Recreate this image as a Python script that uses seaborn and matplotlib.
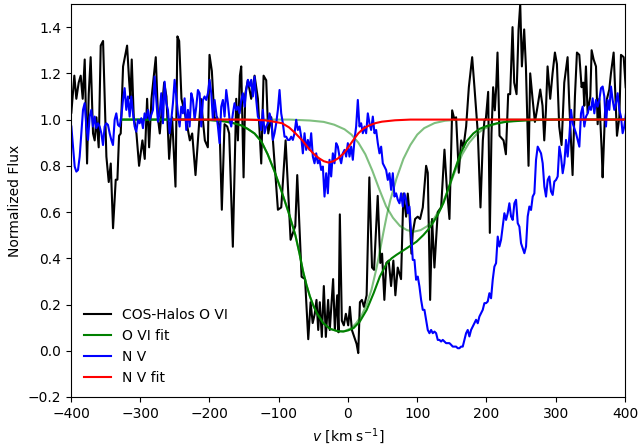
import numpy as np
import matplotlib
matplotlib.use("Agg")
import matplotlib.pyplot as plt
import seaborn as sns

# --- COS-Halos O VI spectrum (velocity in km/s, normalized flux) ---
ovi_vel = [
    -399.5, -395.2, -392.3, -388.9, -386.0, -383.1, -380.2, -376.8, -374.4, -371.6,
    -368.2, -365.8, -363.3, -360.0, -357.1, -353.7, -351.3, -348.9, -345.5, -342.6,
    -339.3, -335.4, -333.0, -330.6, -328.2, -324.8, -319.0, -316.1, -314.2, -312.3,
    -309.4, -305.5, -301.7, -296.9, -293.5, -290.1, -287.2, -283.8, -277.6, -274.2,
    -271.8, -265.5, -262.2, -258.3, -254.0, -249.1, -246.3, -243.8, -240.5, -235.7,
    -228.4, -225.0, -220.2, -212.5, -206.7,
    -202.4, -200.0, -196.6, -192.8, -188.9, -185.5, -182.2, -178.3, -174.4, -171.6,
    -166.3, -161.4, -159.0, -156.1, -154.2, -150.8, -148.4, -144.6, -139.8, -134.9,
    -130.1, -125.3, -121.9, -118.1, -115.2, -110.8, -101.2, -96.4, -90.1, -82.9,
    -76.1, -73.3,
    -67.0, -62.0, -57.4, -54.0, -51.0, -48.0, -45.5, -43.0, -40.7, -37.8,
    -34.9, -32.0, -28.7, -26.3, -21.5, -19.0, -15.6, -13.7, -11.8, -8.9,
    -6.0, -3.1, 0.3, 2.7, 5.6, 9.0, 12.4, 14.8, 17.2, 20.1,
    23.0, 26.9,
    30.8, 34.7, 37.6, 42.9, 46.7, 49.2, 52.5, 55.4, 58.8, 62.2,
    65.5, 68.4, 71.8, 76.6, 80.0, 83.9, 86.3, 88.7, 91.6, 93.5,
    96.9, 100.7, 104.1, 108.0, 112.8, 115.2, 118.6, 121.4, 124.8, 129.6,
    134.5, 139.3, 142.6, 146.5, 150.4, 153.7, 156.1, 160.0, 163.4, 166.7,
    170.6, 174.5, 179.3, 182.6, 187.5, 191.3, 194.7, 197.1,
    199.0, 202.4, 204.8, 207.2, 209.6, 212.0, 214.0, 215.9, 218.8, 221.7,
    224.6, 228.0, 231.3, 234.2, 237.6, 240.0, 243.4, 246.3, 248.7, 251.1,
    254.4, 256.9, 260.7, 263.1, 266.5, 269.9, 272.8, 277.6, 280.9, 283.4,
    285.8, 288.2, 292.0, 295.4, 298.8, 301.7, 305.0, 308.4, 312.3, 317.1,
    319.5, 324.3, 327.7, 330.6, 334.0, 337.3, 339.7, 341.2, 343.6, 346.0,
    349.9, 351.8, 354.7, 358.1, 360.5, 362.9, 366.3, 367.7, 371.1, 374.0,
    377.3, 379.7, 383.6, 386.0, 388.4, 391.8, 394.2, 398.1, 401.0,
]
ovi_flux = [
    1.03, 1.19, 1.09, 1.16, 1.19, 1.09, 1.26, 0.81, 1.11, 1.27,
    0.94, 0.91, 1.01, 0.88, 1.32, 1.34, 1.09, 0.84, 0.73, 0.81,
    0.53, 0.74, 0.74, 0.93, 0.94, 1.23, 1.32, 1.17, 1.09, 1.26,
    1.01, 0.94, 0.80, 0.91, 0.83, 1.09, 0.88, 1.09, 1.27, 1.00,
    0.94, 1.16, 1.10, 0.83, 1.01, 0.71, 1.36, 1.34, 1.09, 1.03,
    0.91, 0.94, 0.76, 1.09, 0.91,
    0.88, 1.28, 1.21, 1.00, 1.01, 0.97, 0.61, 0.98, 0.97, 0.94,
    0.45, 1.09, 0.91, 1.19, 1.23, 0.75, 1.11, 1.17, 1.09, 1.19,
    1.09, 0.81, 1.19, 1.17, 0.94, 1.01, 0.61, 0.62, 0.91, 0.48,
    0.54, 0.76,
    0.32, 0.31, 0.05, 0.21, 0.12, 0.16, 0.22, 0.09, 0.21, 0.06,
    0.28, 0.06, 0.22, 0.09, 0.31, 0.09, 0.24, 0.08, 0.59, 0.13,
    0.11, 0.16, 0.11, 0.19, 0.09, 0.06, 0.03, -0.01, 0.21, 0.22,
    0.19, 0.24,
    0.75, 0.36, 0.35, 0.67, 0.38, 0.42, 0.22, 0.38, 0.39, 0.28,
    0.39, 0.24, 0.36, 0.31, 0.68, 0.58, 0.68, 0.60, 0.42, 0.51,
    0.57, 0.58, 0.57, 0.62, 0.80, 0.77, 0.22, 0.57, 0.36, 0.60,
    0.62, 0.87, 0.71, 0.57, 1.04, 1.00, 1.01, 0.77, 0.91, 0.88,
    0.97, 1.14, 1.27, 1.14, 0.94, 0.62, 0.91, 1.00,
    1.00, 1.12, 0.51, 0.94, 1.14, 1.04, 1.14, 1.29, 0.93, 0.92,
    0.91, 0.85, 1.11, 1.11, 1.40, 1.16, 1.11, 1.39, 1.50, 1.23,
    1.39, 1.23, 0.80, 1.20, 1.09, 0.99, 1.04, 1.13, 1.06, 0.91,
    1.04, 1.23, 1.09, 1.20, 1.29, 1.24, 0.97, 0.89, 1.16, 1.27,
    1.07, 0.76, 1.10, 1.29, 1.28, 1.14, 1.16, 1.06, 1.23, 1.03,
    1.10, 1.30, 1.26, 1.23, 0.98, 1.09, 0.87, 0.75, 1.03, 1.09,
    1.13, 1.20, 1.29, 1.11, 0.93, 1.01, 1.28, 1.27, 1.14,
]

# --- N V spectrum on a uniform velocity grid ---
nv_flux = [
    # -400 .. -204 km/s
    0.970, 0.883, 0.797, 0.775, 0.782, 0.840, 0.941, 1.042, 1.071, 0.970,
    0.912, 1.013, 1.042, 0.970, 1.013, 0.963, 0.984, 0.970, 0.941, 0.890,
    0.970, 0.984, 0.977, 0.941, 0.912, 0.890, 0.999, 1.027, 0.977, 0.970,
    1.013, 1.085, 1.136, 1.042, 1.100, 1.013, 1.100, 1.027, 0.970, 0.948,
    0.999, 0.984, 1.006, 0.963, 1.027, 1.006, 1.042, 0.999, 1.020, 1.042,
    1.186, 1.085, 0.991, 1.027, 1.114, 0.984, 1.164, 1.071, 1.042, 0.941,
    0.999, 1.071, 1.172, 1.100, 1.027, 0.970, 1.056, 1.027, 1.092, 0.955,
    1.042, 0.970, 1.114, 1.085, 0.999, 1.056, 1.128, 1.114, 0.970, 1.085,
    1.100, 1.085,
    # -202 .. 0 km/s
    1.114, 1.172, 1.114, 0.999, 1.085, 1.027, 0.970, 0.898, 1.056, 1.085,
    1.013, 1.128, 1.071, 0.999, 0.970, 1.027, 1.071, 1.042, 1.056, 1.027,
    1.085, 1.114, 1.056, 1.128, 1.172, 1.143, 1.172, 1.100, 1.186, 1.085,
    1.013, 0.999, 0.955, 1.042, 0.941, 0.970, 0.984, 1.027, 0.999, 0.912,
    0.941, 0.984, 1.042, 1.128, 1.027, 0.984, 0.926, 0.926, 0.912, 0.912,
    0.926, 0.912, 0.941, 0.999, 0.955, 0.970, 0.926, 0.854, 0.941, 0.869,
    0.912, 0.869, 0.941, 0.840, 0.811, 0.854, 0.811, 0.826, 0.782, 0.797,
    0.667, 0.768, 0.681, 0.826, 0.754, 0.854, 0.811, 0.898, 0.883, 0.840,
    0.811, 0.854, 0.869, 0.840, 0.898,
    # 2 .. 200 km/s
    0.840, 0.883, 0.826, 0.912, 0.970, 1.085, 0.970, 0.984, 0.941, 0.970,
    0.941, 1.027, 0.984, 0.955, 1.013, 0.941, 0.955, 0.898, 0.854, 0.883,
    0.811, 0.797, 0.782, 0.739, 0.768, 0.696, 0.768, 0.667, 0.681, 0.653,
    0.638, 0.681, 0.624, 0.681, 0.653, 0.595, 0.624, 0.508, 0.393, 0.393,
    0.307, 0.321, 0.278, 0.220, 0.177, 0.177, 0.134, 0.090, 0.076, 0.090,
    0.076, 0.083, 0.076, 0.047, 0.047, 0.040, 0.047, 0.040, 0.033, 0.033,
    0.033, 0.026, 0.018, 0.018, 0.018, 0.011, 0.011, 0.018, 0.018, 0.047,
    0.076, 0.090, 0.062, 0.090, 0.105, 0.119, 0.134, 0.119, 0.148, 0.163,
    0.177, 0.206, 0.206,
    # 201 .. 401 km/s
    0.213, 0.249, 0.227, 0.307, 0.364, 0.379, 0.494, 0.451, 0.480, 0.537,
    0.595, 0.566, 0.595, 0.638, 0.581, 0.566, 0.638, 0.653, 0.552, 0.537,
    0.465, 0.444, 0.422, 0.451, 0.581, 0.624, 0.609, 0.667, 0.681, 0.826,
    0.883, 0.869, 0.854, 0.811, 0.710, 0.667, 0.739, 0.754, 0.689, 0.674,
    0.732, 0.739, 0.754, 0.883, 0.840, 0.768, 0.811, 0.912, 0.840, 0.926,
    1.042, 0.984, 0.963, 0.941, 0.912, 0.883, 1.027, 1.056, 0.970, 1.013,
    1.027, 1.056, 1.042, 1.092, 1.027, 1.085, 1.056, 1.085, 1.136, 1.143,
    1.100, 0.970, 1.085, 1.042, 1.143, 1.085, 1.042, 1.071, 1.114, 1.042,
    1.013, 0.941, 0.970, 1.027,
]
nv_vel = np.linspace(-399.5, 401.4, len(nv_flux))

# --- O VI two-component fit and its individual components ---
ovi_fit_vel = [
    -328, -220, -200, -180, -166, -154, -145, -135, -125, -116,
    -106, -96, -86, -76, -70, -65, -60, -55, -50, -45,
    -36, -26, -15, -7, 0, 8, 17, 27, 37, 46,
    56, 63, 70, 85, 99, 109, 116, 123, 130, 138,
    147, 155, 162, 171, 181, 190, 200, 215, 230, 260,
    300, 400,
]
ovi_fit_flux = [
    1.0, 1.0, 0.998, 0.993, 0.985, 0.975, 0.96, 0.94, 0.905, 0.85,
    0.775, 0.69, 0.60, 0.50, 0.42, 0.345, 0.285, 0.235, 0.195, 0.163,
    0.12, 0.095, 0.085, 0.083, 0.088, 0.098, 0.126, 0.177, 0.249, 0.321,
    0.379, 0.40, 0.415, 0.444, 0.472, 0.501, 0.525, 0.555, 0.59, 0.64,
    0.72, 0.79, 0.85, 0.905, 0.94, 0.96, 0.972, 0.984, 0.991, 0.997,
    1.0, 1.0,
]
ovi_comp1_vel = [
    -328, -220, -200, -180, -166, -154, -145, -135, -125, -116,
    -106, -96, -86, -76, -70, -65, -60, -55, -50, -45,
    -36, -26, -15, -5, 5, 12, 20, 27, 34, 41,
    46, 51, 56, 61, 70, 80, 90, 100, 110, 125,
    140, 160, 400,
]
ovi_comp1_flux = [
    1.0, 1.0, 0.998, 0.993, 0.985, 0.975, 0.96, 0.94, 0.905, 0.85,
    0.775, 0.69, 0.60, 0.50, 0.42, 0.345, 0.285, 0.235, 0.195, 0.163,
    0.122, 0.095, 0.084, 0.085, 0.098, 0.12, 0.155, 0.20, 0.265, 0.355,
    0.43, 0.51, 0.585, 0.65, 0.745, 0.83, 0.89, 0.935, 0.963, 0.985,
    0.995, 1.0, 1.0,
]
ovi_comp2_vel = [
    -328, -85, -55, -35, -20, -5, 5, 15, 25, 35,
    45, 55, 65, 75, 85, 95, 105, 115, 125, 135,
    145, 155, 165, 175, 185, 195, 210, 225, 245, 275,
    400,
]
ovi_comp2_flux = [
    1.0, 1.0, 0.996, 0.99, 0.978, 0.958, 0.935, 0.90, 0.85, 0.78,
    0.70, 0.625, 0.575, 0.54, 0.522, 0.515, 0.522, 0.54, 0.575, 0.625,
    0.70, 0.78, 0.85, 0.90, 0.935, 0.958, 0.978, 0.99, 0.996, 1.0,
    1.0,
]

# --- N V single-component fit ---
nv_fit_vel = [
    -252, -150, -120, -105, -95, -85, -76, -66, -57, -50,
    -42, -35, -28, -21, -14, -6, 1, 8, 15, 22,
    30, 40, 49, 68, 90, 400,
]
nv_fit_flux = [
    1.0, 1.0, 0.997, 0.99, 0.984, 0.966, 0.941, 0.91, 0.876, 0.853,
    0.833, 0.82, 0.814, 0.82, 0.833, 0.855, 0.883, 0.913, 0.941, 0.96,
    0.974, 0.985, 0.991, 0.997, 1.0, 1.0,
]

fig = plt.figure(figsize=(6.39, 4.47), dpi=100)
ax = fig.add_axes([71 / 639, 1 - 397 / 447, 554 / 639, 393 / 447])

common = dict(ax=ax, estimator=None, sort=False, linewidth=1.5)
sns.lineplot(x=ovi_vel, y=ovi_flux, color="black", label="COS-Halos O VI", **common)
sns.lineplot(x=ovi_fit_vel, y=ovi_fit_flux, color="green", label="O VI fit", **common)
sns.lineplot(x=ovi_comp1_vel, y=ovi_comp1_flux, color="green", alpha=0.5,
             label="_comp1", **common)
sns.lineplot(x=ovi_comp2_vel, y=ovi_comp2_flux, color="green", alpha=0.5,
             label="_comp2", **common)
sns.lineplot(x=nv_vel, y=nv_flux, color="blue", label="N V", **common)
sns.lineplot(x=nv_fit_vel, y=nv_fit_flux, color="red", label="N V fit", **common)

ax.set_xlim(-400, 400)
ax.set_ylim(-0.2, 1.5)
ax.set_xticks(np.arange(-400, 401, 100))
ax.set_yticks(np.arange(-0.2, 1.41, 0.2))
ax.set_xlabel(r"$v$ [km s$^{-1}$]")
ax.set_ylabel("Normalized Flux")

handles, labels = ax.get_legend_handles_labels()
keep = [(h, l) for h, l in zip(handles, labels) if not l.startswith("_")]
ax.legend([h for h, _ in keep], [l for _, l in keep], loc="lower left", frameon=False)

fig.savefig("out.png", dpi=100)
